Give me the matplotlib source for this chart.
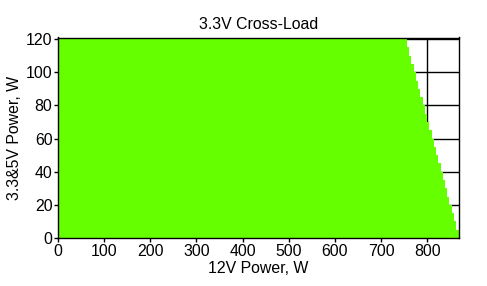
import matplotlib
matplotlib.use("Agg")
import matplotlib.pyplot as plt

plt.rcParams['font.family'] = ['Liberation Sans', 'DejaVu Sans']

# 3.3&5V power band bottoms (W) and max 12V power for each band (W)
y_levels = [0, 5, 10, 15, 20, 25, 30, 35, 40, 45, 50, 55, 60, 65, 70, 75,
            80, 85, 90, 95, 100, 105, 110, 115, 120]
x_max = [868, 863, 858, 853, 848, 844, 839, 834, 829, 824, 819, 814, 810,
         805, 800, 795, 790, 785, 780, 775, 771, 766, 761, 756, 751]

x_ticks = [0, 100, 200, 300, 400, 500, 600, 700, 800]
y_ticks = [0, 20, 40, 60, 80, 100, 120]

fs = 11.4
fig = plt.figure(figsize=(4.87, 2.86), dpi=100)
ax = fig.add_axes([58/487, 1-238/286, (459-58)/487, (238-37.5)/286])

ax.fill_betweenx(y_levels, 0, x_max, step='post', color='#66ff00',
                 linewidth=0, zorder=2)

ax.set_xlim(0, 869)
ax.set_ylim(0, 121)
ax.set_xticks(x_ticks)
ax.set_yticks(y_ticks)
ax.grid(True, color='black', linewidth=1.0, zorder=1)
ax.set_axisbelow(True)
for s in ax.spines.values():
    s.set_color('black')
    s.set_linewidth(1.0)
    s.set_zorder(3)
ax.tick_params(direction='out', length=3, width=1, labelsize=fs, pad=1,
               colors='black')

ax.set_title('3.3V Cross-Load', fontsize=fs, pad=6)
ax.set_xlabel('12V Power, W', fontsize=fs, labelpad=2)
ax.set_ylabel('3.3&5V Power, W', fontsize=fs, labelpad=3)

fig.savefig('out.png', dpi=100)
